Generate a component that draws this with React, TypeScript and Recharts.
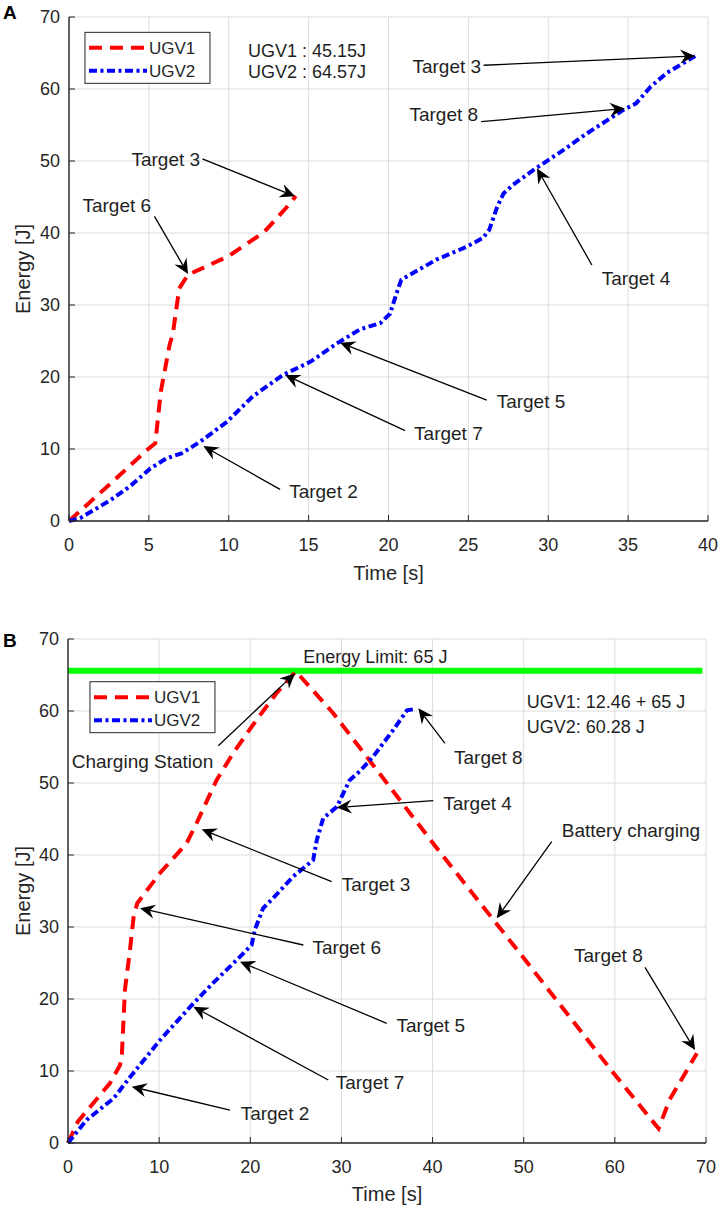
import React from "react";
import {
  LineChart,
  Line,
  XAxis,
  YAxis,
  CartesianGrid,
  ReferenceLine,
  ReferenceDot,
} from "recharts";

const FONT = '"Liberation Sans", Arial, Helvetica, sans-serif';
const INK = "#262626";
const RED = "#ff0000";
const BLUE = "#0000ff";
const GREEN = "#00ff00";
const RED_DASH = "13 8";
const BLUE_DASH = "8 3.5 3 3.5";

const seriesNames = ["UGV1", "UGV2"];
const energyTicks = [0, 10, 20, 30, 40, 50, 60, 70];
const timeTicksA = [0, 5, 10, 15, 20, 25, 30, 35, 40];
const timeTicksB = [0, 10, 20, 30, 40, 50, 60, 70];

// panel A
const aUgv1Time = [0, 2.5, 4.9, 5.4, 5.75, 6.3, 6.5, 6.9, 7.45, 10, 12.2, 13.6, 14.2];
const aUgv1Energy = [0, 5.0, 9.9, 10.8, 18, 24.5, 26, 32.3, 34.2, 36.8, 40.1, 43.5, 45.15];
const aUgv2Time = [
  0, 0.7, 2.6, 3.8, 5.1, 6.1, 7.05, 8.2, 9.9, 11.5, 13.4, 15.1, 16.8, 18.2, 19.5, 20.1,
  20.5, 20.8, 23.0, 24.9, 25.9, 26.3, 26.8, 27.2, 27.8, 29.1, 30.8, 32.4, 34.7, 35.5,
  36.4, 37.4, 39.2,
];
const aUgv2Energy = [
  0, 0.4, 2.9, 4.8, 7.3, 8.7, 9.4, 11, 13.8, 17.3, 20.3, 22.1, 24.7, 26.6, 27.5, 28.8,
  31.6, 33.5, 36.3, 38.1, 39.3, 40.4, 43.6, 45.5, 46.7, 48.8, 51.3, 53.8, 57.1, 58.0,
  60.3, 62.2, 64.57,
];

// panel B
const bUgv1Time = [
  0, 1.1, 4.6, 5.7, 5.9, 6.25, 6.8, 7.2, 7.6, 10.1, 13.0, 14.1, 16.3, 18.1, 20.7, 22.9,
  25.0, 29.1, 40.5, 50.3, 59.8, 64.8, 66.0, 69.0,
];
const bUgv1Energy = [
  0, 3.0, 8.3, 10.8, 12.0, 21.3, 26.8, 31.4, 33.3, 37.5, 41.6, 44.4, 50.4, 54.1, 58.8,
  62.5, 65.5, 59.7, 40.9, 25.2, 9.8, 2.0, 6.0, 12.46,
];
const bUgv2Time = [
  0, 2.05, 5.0, 6.9, 10.1, 13.4, 15.9, 18.5, 20.15, 20.5, 21.4, 22.5, 24.7, 26.9, 27.3,
  28.0, 29.5, 30.9, 32.0, 33.5, 35.7, 37.2, 38.1,
];
const bUgv2Energy = [
  0, 3.2, 6.2, 9.3, 14.3, 18.9, 22.2, 25.4, 27.5, 29.6, 32.6, 34.0, 37.0, 39.3, 42.1,
  45.1, 46.7, 50.4, 51.6, 53.7, 57.4, 60.1, 60.28,
];

const energyLimit = 65.6;
const energyLimitEnd = 69.6;

type Note = { text: string; x: number; y: number; left?: boolean; size?: number };
type Arrow = [number, number, number, number];

const aNotes: Note[] = [
  { text: "Target 3", x: 6.06, y: 50.3 },
  { text: "Target 6", x: 2.99, y: 43.9 },
  { text: "UGV1 : 45.15J", x: 11.2, y: 65.4, left: true, size: 18 },
  { text: "UGV2 : 64.57J", x: 11.2, y: 62.4, left: true, size: 18 },
  { text: "Target 3", x: 23.65, y: 63.2 },
  { text: "Target 8", x: 23.46, y: 56.5 },
  { text: "Target 4", x: 35.5, y: 33.7 },
  { text: "Target 5", x: 28.92, y: 16.57 },
  { text: "Target 7", x: 23.75, y: 12.2 },
  { text: "Target 2", x: 15.93, y: 4.07 },
];
const aArrows: Arrow[] = [
  [8.35, 50.3, 14.15, 45.1],
  [5.35, 42.3, 7.45, 34.3],
  [25.95, 63.3, 39.2, 64.6],
  [25.8, 55.46, 34.8, 57.3],
  [32.73, 35.56, 29.29, 48.98],
  [26.15, 16.8, 16.97, 24.77],
  [21.04, 12.54, 13.53, 20.28],
  [13.21, 4.4, 8.41, 10.4],
];

const bNotes: Note[] = [
  { text: "Energy Limit: 65 J", x: 25.82, y: 67.54, left: true, size: 18 },
  { text: "Charging Station", x: 8.17, y: 53.08 },
  { text: "UGV1: 12.46 + 65 J", x: 50.33, y: 61.3, left: true, size: 18 },
  { text: "UGV2: 60.28 J", x: 50.33, y: 57.8, left: true, size: 18 },
  { text: "Target 8", x: 46.12, y: 53.54 },
  { text: "Target 4", x: 44.93, y: 47.2 },
  { text: "Battery charging", x: 61.76, y: 43.47 },
  { text: "Target 3", x: 33.8, y: 35.97 },
  { text: "Target 6", x: 30.58, y: 27.18 },
  { text: "Target 5", x: 39.81, y: 16.34 },
  { text: "Target 7", x: 33.14, y: 8.47 },
  { text: "Target 2", x: 22.71, y: 4.17 },
  { text: "Target 8", x: 59.29, y: 26.04 },
];
const bArrows: Arrow[] = [
  [16.49, 55.18, 24.91, 65.24],
  [41.36, 55.5, 38.44, 60.37],
  [40.08, 47.55, 29.48, 46.6],
  [53.07, 41.85, 47.04, 31.2],
  [28.93, 36.3, 14.67, 43.57],
  [25.82, 27.5, 7.9, 32.6],
  [34.97, 16.62, 18.87, 25.18],
  [28.56, 8.75, 13.75, 18.93],
  [17.77, 4.58, 6.99, 7.82],
  [63.31, 24.4, 68.8, 12.9],
];

const series = (t: number[], e: number[]) => t.map((v, i) => ({ t: v, e: e[i] }));

function ArrowShape(props: any) {
  const { x1, y1, x2, y2 } = props;
  if (![x1, y1, x2, y2].every((v) => Number.isFinite(v))) return null;
  const dx = x2 - x1;
  const dy = y2 - y1;
  const len = Math.hypot(dx, dy) || 1;
  const ux = dx / len;
  const uy = dy / len;
  const px = -uy;
  const py = ux;
  const L = 15;
  const W = 7;
  const N = 10;
  const bx = x2 - ux * L;
  const by = y2 - uy * L;
  const nx = x2 - ux * N;
  const ny = y2 - uy * N;
  const pts = `${x2},${y2} ${bx + px * W},${by + py * W} ${nx},${ny} ${bx - px * W},${by - py * W}`;
  return (
    <g>
      <line x1={x1} y1={y1} x2={nx} y2={ny} stroke="#000" strokeWidth={1.3} />
      <polygon points={pts} fill="#000" />
    </g>
  );
}

function LegendBox({ x, y }: { x: number; y: number }) {
  return (
    <g>
      <rect x={x} y={y} width={125} height={51} fill="#fff" stroke={INK} strokeWidth={1} />
      <line x1={x + 4} x2={x + 62} y1={y + 15.5} y2={y + 15.5} stroke={RED} strokeWidth={4} strokeDasharray={RED_DASH} />
      <line x1={x + 4} x2={x + 62} y1={y + 38.5} y2={y + 38.5} stroke={BLUE} strokeWidth={4} strokeDasharray={BLUE_DASH} />
      <text x={x + 64} y={y + 15.5} dy="0.355em" fontSize={17} fill={INK} fontFamily={FONT}>
        {seriesNames[0]}
      </text>
      <text x={x + 64} y={y + 38.5} dy="0.355em" fontSize={17} fill={INK} fontFamily={FONT}>
        {seriesNames[1]}
      </text>
    </g>
  );
}

interface PanelProps {
  letter: string;
  height: number;
  margin: { top: number; right: number; left: number; bottom: number };
  yWidth: number;
  xHeight: number;
  xMax: number;
  xTicks: number[];
  xLabelOffset: number;
  ugv1: { t: number; e: number }[];
  ugv2: { t: number; e: number }[];
  notes: Note[];
  arrows: Arrow[];
  legendAt: [number, number];
  showLimit?: boolean;
  letterTop: number;
}

function Panel(p: PanelProps) {
  const tickStyle = { fontSize: 18, fill: INK, fontFamily: FONT };
  const axisLine = { stroke: INK, strokeWidth: 1.4 };
  return (
    <div style={{ position: "relative", width: 720, height: p.height }}>
      <div
        style={{
          position: "absolute",
          left: 3,
          top: p.letterTop,
          fontSize: 19,
          lineHeight: 1,
          fontWeight: "bold",
          fontFamily: FONT,
          color: "#000",
        }}
      >
        {p.letter}
      </div>
      <LineChart width={720} height={p.height} margin={p.margin}>
        <CartesianGrid stroke="#dcdcdc" strokeWidth={1} />
        <XAxis
          dataKey="t"
          type="number"
          domain={[0, p.xMax]}
          ticks={p.xTicks}
          interval={0}
          height={p.xHeight}
          tickSize={-6}
          tickMargin={23}
          stroke={INK}
          axisLine={axisLine}
          tick={tickStyle}
          label={{
            value: "Time [s]",
            position: "insideBottom",
            offset: p.xLabelOffset,
            fontSize: 20,
            fill: INK,
            fontFamily: FONT,
          }}
        />
        <XAxis
          xAxisId="top"
          orientation="top"
          type="number"
          domain={[0, p.xMax]}
          ticks={p.xTicks}
          interval={0}
          height={0}
          tickSize={-6}
          tick={false}
          stroke={INK}
          axisLine={axisLine}
        />
        <YAxis
          type="number"
          domain={[0, 70]}
          ticks={energyTicks}
          interval={0}
          width={p.yWidth}
          tickSize={-6}
          tickMargin={15}
          stroke={INK}
          axisLine={axisLine}
          tick={tickStyle}
          label={{
            value: "Energy [J]",
            angle: -90,
            position: "insideLeft",
            offset: 23,
            fontSize: 20,
            fill: INK,
            fontFamily: FONT,
            style: { textAnchor: "middle" },
          }}
        />
        <YAxis
          yAxisId="right"
          orientation="right"
          type="number"
          domain={[0, 70]}
          ticks={energyTicks}
          interval={0}
          width={0}
          tickSize={-6}
          tick={false}
          stroke={INK}
          axisLine={axisLine}
        />
        {p.showLimit && (
          <ReferenceLine
            segment={[
              { x: 0, y: energyLimit },
              { x: energyLimitEnd, y: energyLimit },
            ]}
            stroke={GREEN}
            strokeWidth={6}
          />
        )}
        <Line
          data={p.ugv1}
          dataKey="e"
          name={seriesNames[0]}
          type="linear"
          stroke={RED}
          strokeWidth={4}
          strokeDasharray={RED_DASH}
          dot={false}
          isAnimationActive={false}
        />
        <Line
          data={p.ugv2}
          dataKey="e"
          name={seriesNames[1]}
          type="linear"
          stroke={BLUE}
          strokeWidth={4}
          strokeDasharray={BLUE_DASH}
          dot={false}
          isAnimationActive={false}
        />
        {p.arrows.map((a, i) => (
          <ReferenceLine
            key={`a${i}`}
            segment={[
              { x: a[0], y: a[1] },
              { x: a[2], y: a[3] },
            ]}
            shape={ArrowShape}
          />
        ))}
        {p.notes.map((n, i) => (
          <ReferenceDot
            key={`n${i}`}
            x={n.x}
            y={n.y}
            r={0}
            fill="none"
            stroke="none"
            label={{
              value: n.text,
              position: n.left ? "right" : "center",
              offset: 0,
              fill: "#1f1f1f",
              fontSize: n.size ?? 19,
              fontFamily: FONT,
            }}
          />
        ))}
        <ReferenceDot
          x={p.legendAt[0]}
          y={p.legendAt[1]}
          r={0}
          fill="none"
          stroke="none"
          label={(lp: any) => {
            const vb = lp?.viewBox ?? { x: 0, y: 0 };
            return <LegendBox x={vb.x} y={vb.y} />;
          }}
        />
      </LineChart>
    </div>
  );
}

export default function App() {
  return (
    <div style={{ width: 720, fontFamily: FONT, background: "#fff" }}>
      <style>{"body{margin:0;background:#fff}"}</style>
      <Panel
        letter="A"
        letterTop={2.5}
        height={600}
        margin={{ top: 17, right: 12, left: 0, bottom: 0 }}
        yWidth={69}
        xHeight={79}
        xMax={40}
        xTicks={timeTicksA}
        xLabelOffset={20}
        ugv1={series(aUgv1Time, aUgv1Energy)}
        ugv2={series(aUgv2Time, aUgv2Energy)}
        notes={aNotes}
        arrows={aArrows}
        legendAt={[1.0, 67.87]}
      />
      <Panel
        letter="B"
        letterTop={30.5}
        height={608}
        margin={{ top: 39, right: 14, left: 0, bottom: 0 }}
        yWidth={68}
        xHeight={65}
        xMax={70}
        xTicks={timeTicksB}
        xLabelOffset={7}
        ugv1={series(bUgv1Time, bUgv1Energy)}
        ugv2={series(bUgv2Time, bUgv2Energy)}
        notes={bNotes}
        arrows={bArrows}
        legendAt={[2.41, 64.07]}
        showLimit
      />
    </div>
  );
}
